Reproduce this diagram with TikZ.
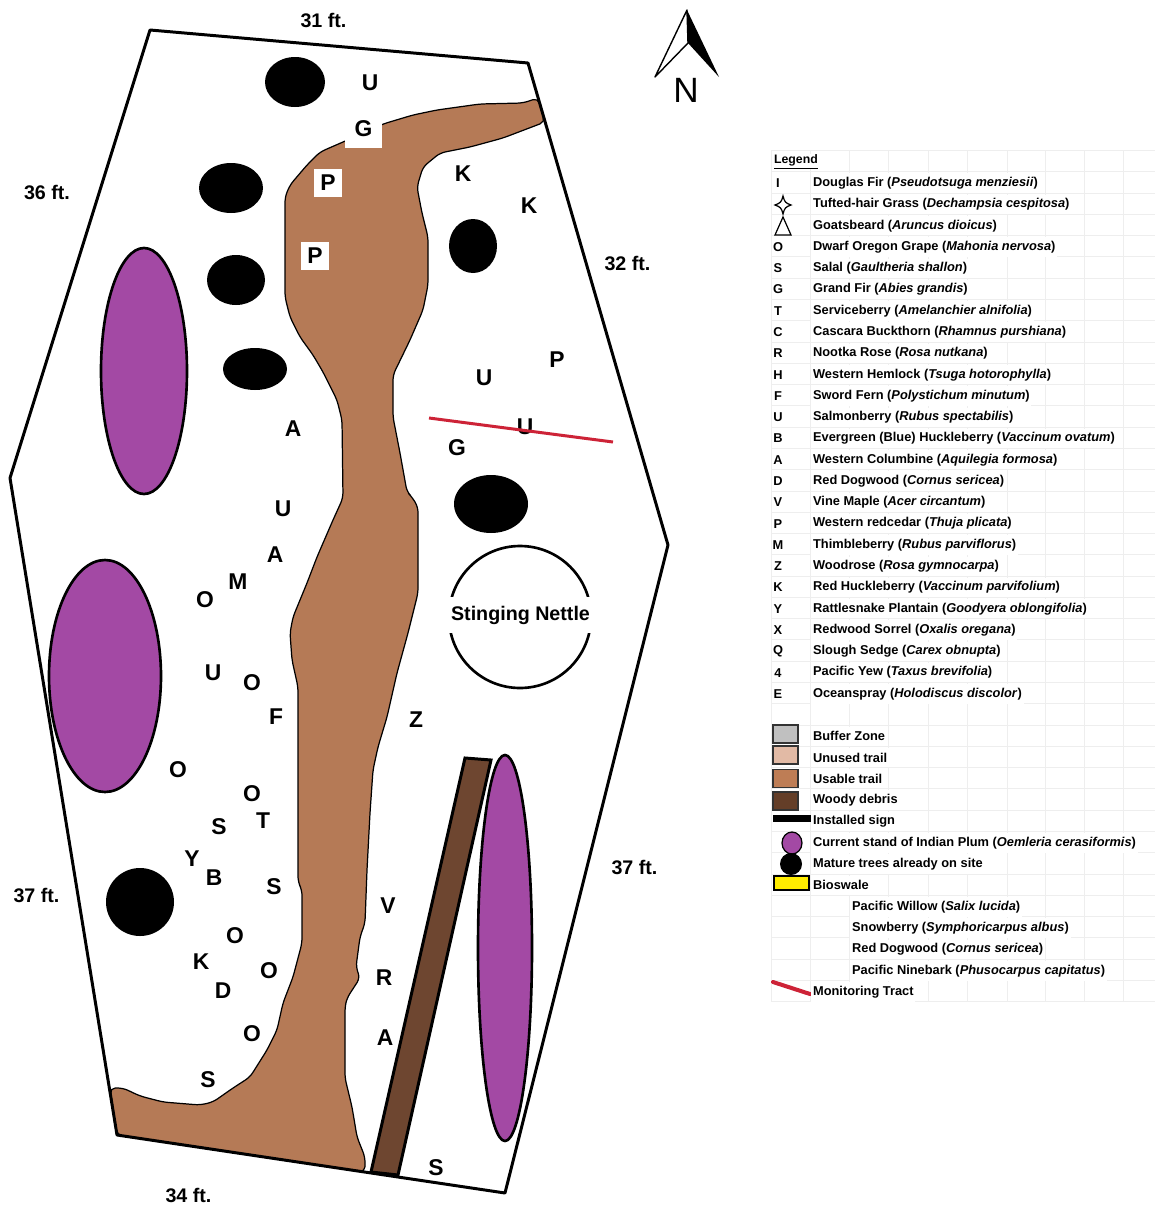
\documentclass[tikz,border=0pt]{standalone}
\usepackage{fontspec}
\setmainfont{Liberation Sans}
\usepackage{xcolor}
\definecolor{ctrail}{RGB}{181,122,86}
\definecolor{cplum}{RGB}{163,73,164}
\definecolor{cdebris}{RGB}{110,70,48}
\definecolor{cgrille}{RGB}{238,238,238}
\definecolor{crouge}{RGB}{205,35,55}
\definecolor{cbuffer}{RGB}{192,192,192}
\definecolor{cunused}{RGB}{226,186,165}
\definecolor{cusable}{RGB}{190,125,85}
\definecolor{cwoody}{RGB}{100,62,40}
\definecolor{cjaune}{RGB}{255,236,0}

\begin{document}
\begin{tikzpicture}[x=0.02cm, y=-0.02cm,
  plant/.style={font=\fontsize{13}{13}\bfseries\selectfont, inner sep=0pt, yshift=-0.5pt},
  whitebox/.style={plant, fill=white, minimum width=16pt, minimum height=16pt},
  dim/.style={font=\fontsize{11.2}{12}\bfseries\selectfont, inner sep=0pt},
  tree/.style={fill=black},
  plum/.style={draw=black, line width=1.5pt, fill=cplum},
  legtxt/.style={anchor=west, font=\fontsize{7.3}{8}\bfseries\selectfont, fill=white, inner xsep=1pt, inner ysep=0pt, minimum height=11pt, yshift=-0.5pt},
  legsym/.style={font=\fontsize{7.3}{8}\bfseries\selectfont, inner sep=0pt, yshift=-0.5pt},
  swatch/.style={draw=black!80, line width=1pt}]
\useasboundingbox (0,0) rectangle (1155,1207);

% trail
\draw[fill=ctrail, line width=0.7pt, rounded corners=3pt]
  (538,98) -- (523,103) -- (480,104) -- (437,110) -- (413,115) -- (383,124) -- (343,142) -- (320,152)
  -- (307,165) -- (290,185) -- (285,197) -- (285,297) -- (290,317) -- (300,337) -- (313,355) -- (323,372)
  -- (337,400) -- (342,420) -- (343,498) -- (333,520) -- (317,557) -- (307,583) -- (293,617) -- (290,633)
  -- (292,660) -- (298,687) -- (298,882) -- (302,890) -- (302,943) -- (293,977) -- (283,1003) -- (277,1030)
  -- (267,1050) -- (250,1077) -- (233,1088) -- (213,1102) -- (200,1105) -- (163,1102) -- (140,1096)
  -- (123,1088) -- (110,1088) -- (117,1135) -- (365,1172) -- (365,1157) -- (357,1137) -- (352,1107)
  -- (345,1078) -- (345,1007) -- (347,998) -- (360,978) -- (356,967) -- (360,937) -- (365,923) -- (367,870)
  -- (370,813) -- (373,770) -- (378,747) -- (387,717) -- (397,673) -- (408,633) -- (418,593) -- (418,507)
  -- (412,497) -- (407,492) -- (400,453) -- (393,417) -- (393,375) -- (410,340) -- (423,310) -- (428,285)
  -- (428,237) -- (422,213) -- (417,187) -- (423,167) -- (440,153) -- (470,147) -- (503,138) -- (545,122) -- cycle;

% site boundary
\draw[line width=1.7pt, line join=round] (150,30) -- (528,63) -- (668,545) -- (505,1193) -- (117,1135) -- (10,478) -- cycle;

% woody debris
\draw[fill=cdebris, line width=1.7pt] (465,758) -- (491,760) -- (398,1175) -- (371,1172) -- cycle;

% mature trees
\foreach \x/\y/\rx/\ry in {295/82/30/25, 231/188/32/25, 236/280/29/25, 255/369/32/21, 473/246/24/27, 491/504/37/29, 140/902/34/34}
  {\fill[tree] (\x,\y) ellipse [x radius=\rx, y radius=\ry];}

% indian plum
\foreach \x/\y/\rx/\ry in {144/371/43/123, 105/676/56/116, 505/948/27/193}
  {\draw[plum] (\x,\y) ellipse [x radius=\rx, y radius=\ry];}

% stinging nettle
\draw[line width=1.5pt] (520,617) circle (71);
\node[fill=white, inner xsep=3pt, inner ysep=0pt, minimum height=21pt, font=\fontsize{11.2}{12}\bfseries\selectfont] (nettle) at (520.5,615) {Stinging Nettle};

% plant letters
\foreach \x/\y/\lab [count=\i] in {370/82/U, 463/173/K, 529/205/K, 484/377/U, 557/359/P, 525/426/U, 457/447/G,
  293/428/A, 283/508/U, 275/554/A, 238/581/M, 205/599/O, 213/672/U, 252/682/O, 276/716/F, 416/719/Z,
  178/769/O, 252/793/O, 263/820/T, 219/826/S, 192/858/Y, 214/877/B, 274/886/S, 388/905/V, 235/935/O,
  201/961/K, 269/970/O, 223/990/D, 384/977/R, 385/1037/A, 252/1033/O, 208/1079/S, 436/1167/S}
  {\node[plant] (pl\i) at (\x,\y) {\lab};}
\node[whitebox, minimum width=21pt, minimum height=20pt] (gbox) at (363.5,130) {\raisebox{3pt}{G}};
\node[whitebox] (pbox1) at (328,182) {P};
\node[whitebox] (pbox2) at (315,255) {P};

% monitoring tract
\draw[crouge, line width=1.7pt] (429,418) -- (613,442);

% side lengths
\foreach \x/\y/\lab [count=\i] in {323.5/20/31, 47/192/36, 627.5/263/32, 634.5/867/37, 36.5/895/37, 188.5/1195/34}
  {\node[dim] (len\i) at (\x,\y) {\lab\ ft.};}

% north arrow
\draw[fill=white, line width=0.8pt, line join=round] (687,10) -- (655,77) -- (688,43) -- cycle;
\fill (687,10) -- (719,77) -- (688,43) -- cycle;
\node[inner sep=0pt, font=\fontsize{20}{20}\selectfont] (nord) at (686,90) {N};

% legend grid
\foreach \i in {0,...,40}
  {\draw[cgrille, line width=0.4pt] (771,150.4+21.28*\i) -- (1155,150.4+21.28*\i);}
\foreach \x in {771,810,849,888,928,967,1007,1045,1084,1123}
  {\draw[cgrille, line width=0.4pt] (\x,150.4) -- (\x,1001.6);}

\node[legtxt, minimum height=0pt, font=\fontsize{7}{8}\bfseries\selectfont] (legtitre) at (772,161) {\underline{Legend}};
\foreach \row/\lab/\name/\latin in {1/I/Douglas Fir/Pseudotsuga menziesii, 2//Tufted-hair Grass/Dechampsia cespitosa,
  3//Goatsbeard/Aruncus dioicus, 4/O/Dwarf Oregon Grape/Mahonia nervosa, 5/S/Salal/Gaultheria shallon,
  6/G/Grand Fir/Abies grandis, 7/T/Serviceberry/Amelanchier alnifolia, 8/C/Cascara Buckthorn/Rhamnus purshiana,
  9/R/Nootka Rose/Rosa nutkana, 10/H/Western Hemlock/Tsuga hotorophylla, 11/F/Sword Fern/Polystichum minutum,
  12/U/Salmonberry/Rubus spectabilis, 13/B/Evergreen (Blue) Huckleberry/Vaccinum ovatum, 14/A/Western Columbine/Aquilegia formosa,
  15/D/Red Dogwood/Cornus sericea, 16/V/Vine Maple/Acer circantum, 17/P/Western redcedar/Thuja plicata,
  18/M/Thimbleberry/Rubus parviflorus, 19/Z/Woodrose/Rosa gymnocarpa, 20/K/Red Huckleberry/Vaccinum parvifolium,
  21/Y/Rattlesnake Plantain/Goodyera oblongifolia, 22/X/Redwood Sorrel/Oxalis oregana, 23/Q/Slough Sedge/Carex obnupta,
  24/4/Pacific Yew/Taxus brevifolia, 25/E/Oceanspray/Holodiscus discolor}
  {\node[legtxt] (leg\row) at (811,161+21.28*\row) {\name\ (\textit{\latin})};
   \node[legsym] (sym\row) at (778,161+21.28*\row) {\lab};}

% legend symbols
\draw[line width=0.7pt, fill=white] (783,196) .. controls (784.5,202) and (785.5,203) .. (791,205)
  .. controls (785.5,207) and (784.5,208) .. (783,214) .. controls (781.5,208) and (780.5,207) .. (775,205)
  .. controls (780.5,203) and (781.5,202) .. (783,196) -- cycle;
\draw[line width=0.7pt, fill=white] (783,217) -- (775,235) -- (791,235) -- cycle;

% legend swatches
\foreach \row/\col/\y/\name in {1/cbuffer/734/Buffer Zone, 2/cunused/755/Unused trail, 3/cusable/778.5/Usable trail, 4/cwoody/801/Woody debris}
  {\draw[swatch, fill=\col] (773,\y-9) rectangle (798,\y+9);
   \node[legtxt] (key\row) at (811,714+21.28*\row) {\name};}
\fill (773,815) rectangle (811,822);
\draw[line width=0.7pt, fill=cplum] (792,843) ellipse [x radius=10, y radius=11];
\fill (791,864) circle (11);
\draw[fill=cjaune, line width=0.8pt] (774,876) rectangle (809,890);
\draw[crouge, line width=2.3pt, line cap=round] (773,982) -- (810,994);

\node[legtxt] (key5) at (811,820.6) {Installed sign};
\node[legtxt] (key6) at (811,842) {Current stand of Indian Plum (\textit{Oemleria cerasiformis})};
\node[legtxt] (key7) at (811,863.2) {Mature trees already on site};
\node[legtxt] (key8) at (811,884.5) {Bioswale};
\foreach \row/\y/\name/\latin in {9/906/Pacific Willow/Salix lucida, 10/927/Snowberry/Symphoricarpus albus, 11/948.5/Red Dogwood/Cornus sericea, 12/970/Pacific Ninebark/Phusocarpus capitatus}
  {\node[legtxt] (key\row) at (850,\y) {\name\ (\textit{\latin})};}
\node[legtxt] (key13) at (811,991) {Monitoring Tract};
\end{tikzpicture}
\end{document}
